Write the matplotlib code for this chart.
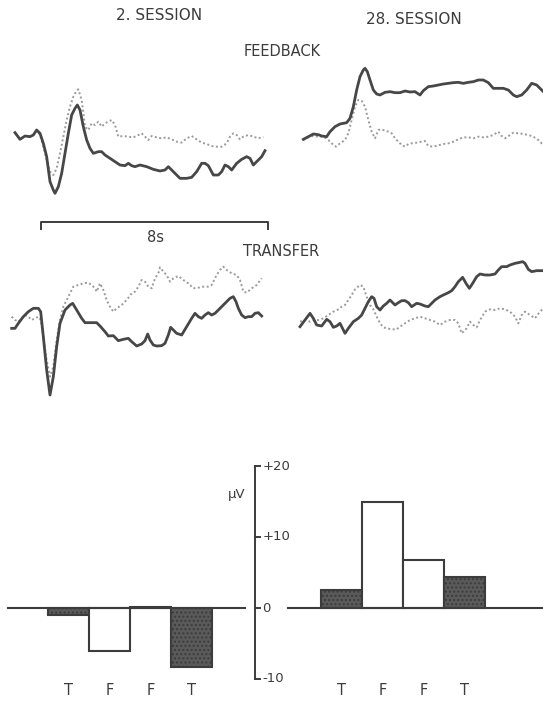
import matplotlib
matplotlib.use("Agg")
import matplotlib.pyplot as plt
import numpy as np

# ---------------- data (time and amplitude in digitizer units,
# amplitude axis inverted: larger value = lower on the page) ----------------
fb2_solid_t = [45,60,75,90,100,110,120,130,140,150,160,165,175,185,195,205,215,225,232,240,250,260,270,280,295,305,315,330,345,360,375,385,395,405,420,440,460,480,495,505,515,530,540,560,575,590,605,615,625,640,655,665,675,685,695,710,725,740,750,760,770,785,795]
fb2_solid_a = [398,418,408,410,405,390,400,430,470,545,570,580,560,520,460,400,345,325,315,330,380,420,445,460,455,455,465,475,485,495,497,490,497,500,495,500,508,513,510,500,510,525,535,535,532,515,490,490,497,525,525,515,495,500,510,490,478,470,475,495,485,470,452]
fb2_dot_t = [45,60,75,90,100,110,120,130,140,150,160,170,180,190,200,210,220,228,235,245,255,265,275,285,295,305,315,325,335,345,355,370,385,400,415,425,435,445,455,470,485,500,515,530,545,560,575,590,605,620,635,650,665,680,690,700,710,720,730,745,760,775,790]
fb2_dot_a = [398,418,408,410,405,392,405,440,480,515,525,505,460,410,360,320,290,275,268,300,380,390,370,375,365,380,370,365,360,375,410,408,410,412,405,400,410,420,408,412,415,412,418,425,428,415,408,418,428,432,438,440,440,430,410,400,405,418,410,405,410,415,410]

fb28_solid_t = [70,85,100,115,125,140,150,165,180,200,210,220,230,240,250,255,262,270,280,290,300,315,330,345,360,375,390,405,420,430,445,460,475,490,505,520,535,550,565,580,595,610,625,640,655,670,685,700,710,725,740,755,770,785,790]
fb28_solid_a = [418,410,402,404,408,410,395,380,372,368,355,320,270,230,210,205,215,240,270,282,285,277,275,278,278,273,276,275,285,272,260,258,255,252,250,248,247,250,247,245,240,240,248,265,265,265,270,285,290,285,270,250,255,270,275]
fb28_dot_t = [70,85,100,115,130,145,155,168,180,195,205,215,225,235,245,255,265,275,285,295,305,315,325,335,345,355,365,375,385,395,410,425,435,445,460,475,490,505,520,535,550,565,580,595,610,625,640,655,665,675,690,700,715,730,745,760,775,785,790]
fb28_dot_a = [420,412,408,410,410,420,430,440,430,420,400,360,320,300,302,320,360,395,415,390,388,392,395,400,415,425,435,440,432,430,428,425,423,438,440,436,432,430,425,418,412,412,415,410,412,410,405,395,408,415,405,398,400,402,405,410,420,430,432]

tr2_solid_t = [35,45,55,70,85,100,115,122,130,140,150,160,170,180,195,210,218,230,245,255,270,290,300,315,325,340,355,370,385,395,410,425,435,443,450,460,470,485,495,505,512,520,530,545,560,575,585,595,605,615,625,635,645,660,675,690,700,708,715,725,735,745,755,765,775,785]
tr2_solid_a = [325,325,310,290,275,265,265,275,350,450,525,470,380,310,270,255,250,270,295,308,308,308,318,335,348,347,362,358,355,365,378,372,362,342,360,375,378,377,370,345,322,330,340,345,320,295,280,290,295,285,278,285,280,265,250,235,230,245,265,285,293,290,290,280,278,288]
tr2_dot_t = [35,45,55,65,75,85,95,105,115,122,130,140,150,160,170,180,190,200,210,220,235,250,265,275,285,290,300,310,320,330,340,350,365,380,395,405,415,425,435,445,455,465,475,480,490,500,510,520,535,550,565,580,595,610,625,635,650,660,670,680,695,710,720,730,740,755,770,785]
tr2_dot_a = [290,300,305,295,285,290,300,295,290,300,350,420,470,440,360,300,260,240,220,200,195,190,188,195,205,215,190,210,240,260,275,265,255,240,220,215,200,180,185,200,205,175,160,142,155,165,185,175,168,180,190,205,203,200,200,195,165,150,140,150,160,165,180,215,218,205,195,175]

tr28_solid_t = [60,75,90,100,110,125,140,150,160,170,180,195,205,220,235,245,255,265,275,282,290,300,310,320,330,345,355,365,375,385,395,410,420,435,445,455,465,480,490,505,515,525,535,548,558,568,578,590,600,615,630,645,655,665,680,690,705,715,728,735,745,755,770,785]
tr28_solid_a = [320,300,280,295,315,318,298,305,322,318,310,340,325,305,295,285,265,245,230,235,260,270,258,250,240,255,248,242,242,248,260,250,252,258,260,250,240,230,225,218,212,200,185,172,190,205,190,170,162,165,165,162,150,140,140,135,130,128,125,130,148,155,152,152]
tr28_dot_t = [60,75,90,105,115,130,145,160,175,185,195,205,215,225,240,250,260,270,280,290,300,310,320,335,350,360,375,390,405,420,435,450,465,480,495,510,525,535,545,560,570,580,590,600,615,630,645,660,675,690,705,715,725,735,750,765,780,790]
tr28_dot_a = [305,300,305,300,300,295,285,275,268,260,255,240,225,208,195,200,230,255,268,290,310,322,325,328,328,320,310,300,295,290,295,300,305,315,305,300,300,310,340,325,305,315,322,300,275,268,270,265,268,275,290,310,285,275,285,295,275,265]

bar_labels = ["T", "F", "F", "T"]
session2_values = [-1.0, -6.0, 0.15, -8.3]
session28_values = [2.5, 15.0, 6.8, 4.3]
bar_shaded = [True, False, False, True]
y_ticks = [20, 10, 0, -10]
y_tick_labels = ["+20", "+10", "0", "-10"]

# ---------------- figure ----------------
W, H = 543, 714
fig = plt.figure(figsize=(W / 100, H / 100), dpi=100)
fig.patch.set_facecolor("white")

DARK = "#3c3c3c"
SOLID = "#474747"
DOT = "#9a9a9a"
FONT = "DejaVu Sans"


def px_axes(x0, y0, w, h):
    ax = fig.add_axes([x0 / W, 1 - (y0 + h) / H, w / W, h / H])
    ax.set_axis_off()
    return ax


def wave_panel(x0, y0, w, h, st, sa, dt, da):
    ax = px_axes(x0, y0, w, h)
    ax.plot(dt, da, color=DOT, lw=1.4, ls=(0, (1, 1.3)))
    ax.plot(st, sa, color=SOLID, lw=2.0, solid_joinstyle="round")
    ax.set_xlim(0, w * 3)
    ax.set_ylim(h * 3, 0)
    return ax


wave_panel(0, 0, 280, 220, fb2_solid_t, fb2_solid_a, fb2_dot_t, fb2_dot_a)
wave_panel(280, 0, 263, 220, fb28_solid_t, fb28_solid_a, fb28_dot_t, fb28_dot_a)
wave_panel(0, 220, 280, 200, tr2_solid_t, tr2_solid_a, tr2_dot_t, tr2_dot_a)
wave_panel(280, 220, 263, 200, tr28_solid_t, tr28_solid_a, tr28_dot_t, tr28_dot_a)

# overlay for texts and scale bar (pixel coordinates)
ov = px_axes(0, 0, W, H)
ov.set_xlim(0, W)
ov.set_ylim(H, 0)
ov.patch.set_alpha(0)
tkw = dict(color=DARK, family=FONT, ha="center", va="center")
ov.text(159, 16, "2. SESSION", fontsize=11, **tkw)
ov.text(414, 19, "28. SESSION", fontsize=11, **tkw)
ov.text(282, 52, "FEEDBACK", fontsize=10.5, **tkw)
ov.text(281, 252, "TRANSFER", fontsize=10.5, **tkw)
ov.text(155, 238, "8s", fontsize=10.5, **tkw)
ov.plot([41, 41, 268, 268], [229, 222, 222, 229], color=DARK, lw=1.4)

# ---------------- bar chart ----------------
bx0, by0, bw, bh = 0, 440, W, H - 440
bax = px_axes(bx0, by0, bw, bh)
unit = 41.0
px_per_uv = 7.1
zero_y = 608
bax.set_xlim((0 - 68.5) / unit, (W - 68.5) / unit)
bax.set_ylim(-(by0 + bh - zero_y) / px_per_uv, (zero_y - by0) / px_per_uv)

left_pos = np.arange(4)
right_pos = np.arange(4) + 6.67
for pos, vals in ((left_pos, session2_values), (right_pos, session28_values)):
    for p, v, sh in zip(pos, vals, bar_shaded):
        bax.bar(p, v, width=1.0, color="#5a5a5a" if sh else "white",
                edgecolor=DARK, lw=1.5, hatch="...." if sh else None, zorder=2)

# zero baselines
bax.plot([-1.48, 4.30], [0, 0], color=DARK, lw=1.5, zorder=3)
bax.plot([5.35, 12], [0, 0], color=DARK, lw=1.5, zorder=3)

# vertical µV axis
axis_x = 4.55
bax.plot([axis_x, axis_x], [y_ticks[-1], y_ticks[0]], color=DARK, lw=1.4)
for yt, lab in zip(y_ticks, y_tick_labels):
    bax.plot([axis_x, axis_x + 0.12], [yt, yt], color=DARK, lw=1.4)
    bax.text(axis_x + 0.18, yt, lab, fontsize=9.5, color=DARK, family=FONT,
             ha="left", va="center")
bax.text(axis_x - 0.45, 16.0, "µV", fontsize=9.5, color=DARK, family=FONT,
         ha="center", va="center")

for pos in (left_pos, right_pos):
    for p, lab in zip(pos, bar_labels):
        bax.text(p, -11.6, lab, fontsize=10.5, color=DARK, family=FONT,
                 ha="center", va="center")

fig.savefig("out.png", dpi=100, facecolor="white")
